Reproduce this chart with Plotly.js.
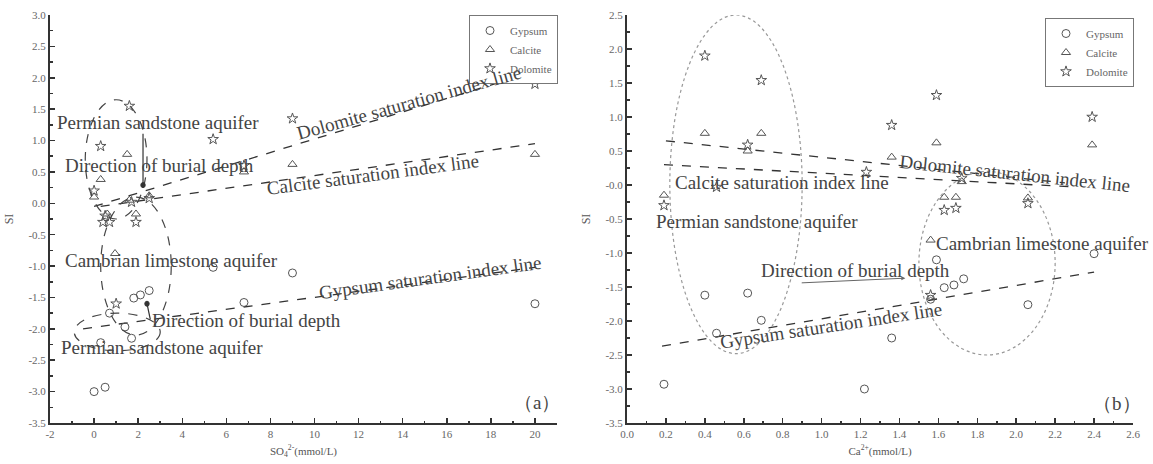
<!DOCTYPE html>
<html>
<head>
<meta charset="utf-8">
<script src="https://cdn.plot.ly/plotly-3.0.1.min.js"></script>
<style>html,body{margin:0;padding:0;background:#fff;}#chart{width:1153px;height:464px;}</style>
</head>
<body>
<div id="chart"></div>
<script>
// ---------- Panel (a): SI vs SO4 ----------
const gypA_x = [0.0, 0.5, 0.3, 1.7, 1.4, 0.7, 1.8, 2.1, 2.5, 5.4, 6.8, 9.0, 20.0];
const gypA_y = [-3.0, -2.93, -2.22, -2.15, -1.97, -1.75, -1.51, -1.46, -1.39, -1.02, -1.58, -1.11, -1.6];
const calA_x = [0.0, 0.3, 1.5, 1.6, 1.9, 0.6, 0.95, 2.5, 6.8, 9.0, 20.0];
const calA_y = [0.1, 0.38, 0.78, 0.05, -0.17, -0.17, -0.8, 0.12, 0.5, 0.62, 0.78];
const dolA_x = [1.6, 0.3, 5.4, 0.0, 6.8, 9.0, 20.0, 1.7, 2.5, 0.5, 0.7, 1.9, 1.0, 0.4];
const dolA_y = [1.55, 0.91, 1.02, 0.2, 0.6, 1.35, 1.9, 0.02, 0.08, -0.2, -0.3, -0.3, -1.6, -0.3];
const dolLineA_x = [0.0, 20.0];
const dolLineA_y = [-0.05, 2.1];
const calLineA_x = [0.3, 20.0];
const calLineA_y = [-0.05, 0.95];
const gypLineA_x = [-0.5, 20.0];
const gypLineA_y = [-2.0, -1.02];

// ---------- Panel (b): SI vs Ca ----------
const gypB_x = [0.19, 0.40, 0.46, 0.62, 0.69, 1.22, 1.36, 1.56, 1.59, 1.63, 1.68, 1.73, 2.06, 2.40];
const gypB_y = [-2.93, -1.62, -2.18, -1.59, -1.99, -3.0, -2.25, -1.68, -1.1, -1.51, -1.47, -1.38, -1.76, -1.01];
const calB_x = [0.19, 0.40, 0.62, 0.69, 1.36, 1.59, 2.39, 1.72, 1.63, 1.69, 2.06, 1.56];
const calB_y = [-0.15, 0.76, 0.5, 0.76, 0.41, 0.62, 0.59, 0.05, -0.18, -0.18, -0.19, -0.81];
const dolB_x = [0.40, 0.69, 0.62, 0.46, 0.19, 1.36, 1.59, 2.39, 1.23, 1.72, 1.63, 1.69, 2.06, 1.56];
const dolB_y = [1.9, 1.54, 0.59, -0.03, -0.3, 0.88, 1.32, 1.0, 0.19, 0.1, -0.37, -0.34, -0.27, -1.62];
const dolLineB_x = [0.2, 2.25];
const dolLineB_y = [0.65, 0.03];
const calLineB_x = [0.19, 2.3];
const calLineB_y = [0.3, -0.03];
const gypLineB_x = [0.18, 2.4];
const gypLineB_y = [-2.37, -1.28];

const xTicksA = [-2, 0, 2, 4, 6, 8, 10, 12, 14, 16, 18, 20];
const yTicksA = [-3.5, -3.0, -2.5, -2.0, -1.5, -1.0, -0.5, 0.0, 0.5, 1.0, 1.5, 2.0, 2.5, 3.0];
const yTickTextA = ["-3.5", "-3.0", "-2.5", "-2.0", "-1.5", "-1.0", "-0.5", "0.0", "0.5", "1.0", "1.5", "2.0", "2.5", "3.0"];
const xTicksB = [0.0, 0.2, 0.4, 0.6, 0.8, 1.0, 1.2, 1.4, 1.6, 1.8, 2.0, 2.2, 2.4, 2.6];
const xTickTextB = ["0.0", "0.2", "0.4", "0.6", "0.8", "1.0", "1.2", "1.4", "1.6", "1.8", "2.0", "2.2", "2.4", "2.6"];
const yTicksB = [-3.5, -3.0, -2.5, -2.0, -1.5, -1.0, -0.5, 0.0, 0.5, 1.0, 1.5, 2.0, 2.5];
const yTickTextB = ["-3.5", "-3.0", "-2.5", "-2.0", "-1.5", "-1.0", "-0.5", "-0.0", "0.5", "1.0", "1.5", "2.0", "2.5"];

const SERIF = "Liberation Serif, Times New Roman, serif";
const MC = "#555";
const mk = (sym, s) => ({symbol: sym, size: s, color: MC, line: {color: MC, width: 1}});

function pts(x, y, name, sym, s, xa, ya, lg) {
  return {x: x, y: y, name: name, type: "scatter", mode: "markers", marker: mk(sym, s),
          xaxis: xa, yaxis: ya, legend: lg, showlegend: true, cliponaxis: false};
}
function ln(x, y, xa, ya) {
  return {x: x, y: y, type: "scatter", mode: "lines", line: {color: "#333", width: 1.3, dash: "dash"},
          xaxis: xa, yaxis: ya, showlegend: false, hoverinfo: "skip"};
}

const data = [
  ln(dolLineA_x, dolLineA_y, "x", "y"),
  ln(calLineA_x, calLineA_y, "x", "y"),
  ln(gypLineA_x, gypLineA_y, "x", "y"),
  ln(dolLineB_x, dolLineB_y, "x2", "y2"),
  ln(calLineB_x, calLineB_y, "x2", "y2"),
  ln(gypLineB_x, gypLineB_y, "x2", "y2"),
  pts(gypA_x, gypA_y, "Gypsum", "circle-open", 8, "x", "y", "legend"),
  pts(calA_x, calA_y, "Calcite", "triangle-up-open", 8, "x", "y", "legend"),
  pts(dolA_x, dolA_y, "Dolomite", "star-open", 8, "x", "y", "legend"),
  pts(gypB_x, gypB_y, "Gypsum", "circle-open", 8, "x2", "y2", "legend2"),
  pts(calB_x, calB_y, "Calcite", "triangle-up-open", 8, "x2", "y2", "legend2"),
  pts(dolB_x, dolB_y, "Dolomite", "star-open", 8, "x2", "y2", "legend2")
];

const W = 1153, H = 464;
const yDom = [(H - 423) / H, (H - 15) / H];

function axisBase(extra) {
  return Object.assign({
    showgrid: false, zeroline: false, showline: true, linecolor: "#333", linewidth: 2,
    ticks: "inside", ticklen: 5, tickwidth: 1.5, tickcolor: "#333",
    tickfont: {family: SERIF, size: 11, color: "#666"},
    tickmode: "array", fixedrange: true
  }, extra);
}

const annFont = {family: SERIF, size: 19, color: "#444"};
function txt(x, y, t, xr, yr, ang, extra) {
  return Object.assign({x: x, y: y, text: t, xref: xr, yref: yr, showarrow: false,
    textangle: ang || 0, font: annFont}, extra || {});
}

const layout = {
  width: W, height: H,
  margin: {l: 0, r: 0, t: 0, b: 0},
  paper_bgcolor: "#fff", plot_bgcolor: "#fff",
  font: {family: SERIF},
  xaxis: axisBase({domain: [50 / W, 557 / W], range: [-2, 21], anchor: "y",
    tickvals: xTicksA, ticktext: xTicksA.map(String),
    minor: {tickvals: [-1, 1, 3, 5, 7, 9, 11, 13, 15, 17, 19, 21], ticks: "inside", ticklen: 2.5, tickcolor: "#333", tickwidth: 1.5},
    title: {text: "SO<sub>4</sub><sup>2-</sup>(mmol/L)", font: {family: SERIF, size: 11, color: "#555"}, standoff: 8}}),
  yaxis: axisBase({domain: yDom, range: [-3.5, 3.0], anchor: "x",
    tickvals: yTicksA, ticktext: yTickTextA,
    minor: {dtick: 0.25, ticks: "inside", ticklen: 3, tickcolor: "#333", tickwidth: 1.5},
    title: {text: "SI", font: {family: SERIF, size: 12, color: "#555"}, standoff: 12}}),
  xaxis2: axisBase({domain: [627 / W, 1133 / W], range: [0, 2.6], anchor: "y2",
    tickvals: xTicksB, ticktext: xTickTextB,
    minor: {dtick: 0.1, ticks: "inside", ticklen: 2.5, tickcolor: "#333", tickwidth: 1.5},
    title: {text: "Ca<sup>2+</sup>(mmol/L)", font: {family: SERIF, size: 11, color: "#555"}, standoff: 8}}),
  yaxis2: axisBase({domain: yDom, range: [-3.5, 2.5], anchor: "x2",
    tickvals: yTicksB, ticktext: yTickTextB,
    minor: {dtick: 0.25, ticks: "inside", ticklen: 3, tickcolor: "#333", tickwidth: 1.5},
    title: {text: "SI", font: {family: SERIF, size: 12, color: "#555"}, standoff: 12}}),
  legend: {x: 469 / W, y: (H - 15) / H, xanchor: "left", yanchor: "top",
    bgcolor: "#fff", bordercolor: "#777", borderwidth: 1,
    font: {family: SERIF, size: 11, color: "#666"}, tracegroupgap: 0, itemwidth: 30},
  legend2: {x: 1045 / W, y: (H - 18) / H, xanchor: "left", yanchor: "top",
    bgcolor: "#fff", bordercolor: "#777", borderwidth: 1,
    font: {family: SERIF, size: 11, color: "#666"}, tracegroupgap: 0, itemwidth: 30},
  shapes: [
    // panel (a) grouping ellipses
    {type: "circle", xref: "x", yref: "y", x0: -0.4, x1: 2.4, y0: -0.25, y1: 1.65,
     line: {color: "#444", width: 1.2, dash: "dash"}},
    {type: "circle", xref: "x", yref: "y", x0: 0.3, x1: 3.5, y0: -2.1, y1: 0.1,
     line: {color: "#444", width: 1.2, dash: "dash"}},
    {type: "circle", xref: "x", yref: "y", x0: -0.9, x1: 3.0, y0: -2.35, y1: -1.75,
     line: {color: "#444", width: 1.2, dash: "dash"}},
    // panel (b) grouping ellipses
    {type: "circle", xref: "x2", yref: "y2", x0: 0.22, x1: 0.9, y0: -2.48, y1: 2.5,
     line: {color: "#999", width: 1.2, dash: "dot"}},
    {type: "circle", xref: "x2", yref: "y2", x0: 1.5, x1: 2.2, y0: -2.5, y1: 0.2,
     line: {color: "#999", width: 1.2, dash: "dot"}},
    // burial-direction arrows in panel (a)
    {type: "line", xref: "x", yref: "y", x0: 2.22, x1: 2.22, y0: 1.11, y1: 0.29,
     line: {color: "#333", width: 1.2}},
    {type: "circle", xref: "x", yref: "y", x0: 2.12, x1: 2.32, y0: 0.25, y1: 0.33,
     fillcolor: "#333", line: {color: "#333", width: 1}},
    {type: "line", xref: "x", yref: "y", x0: 2.55, x1: 2.4, y0: -1.85, y1: -1.6,
     line: {color: "#333", width: 1.2}},
    {type: "circle", xref: "x", yref: "y", x0: 2.3, x1: 2.5, y0: -1.64, y1: -1.56,
     fillcolor: "#333", line: {color: "#333", width: 1}}
  ],
  annotations: [
    // panel (a)
    txt(2.9, 1.29, "Permian sandstone aquifer", "x", "y"),
    txt(2.95, 0.6, "Direction of burial depth", "x", "y"),
    txt(14.3, 1.61, "Dolomite saturation index line", "x", "y", -15.5),
    txt(12.65, 0.46, "Calcite saturation index line", "x", "y", -7.5),
    txt(15.24, -1.18, "Gypsum saturation index line", "x", "y", -7.8),
    txt(3.49, -0.91, "Cambrian limestone aquifer", "x", "y"),
    txt(6.93, -1.86, "Direction of burial depth", "x", "y"),
    txt(3.08, -2.29, "Permian sandstone aquifer", "x", "y"),
    txt(20.1, -3.18, "（a）", "x", "y"),
    // panel (b)
    txt(0.797, 0.044, "Calcite saturation index line", "x2", "y2"),
    txt(1.994, 0.176, "Dolomite saturation index line", "x2", "y2", 6),
    txt(0.668, -0.544, "Permian sandstone aquifer", "x2", "y2"),
    txt(2.133, -0.853, "Cambrian limestone aquifer", "x2", "y2"),
    txt(1.172, -1.25, "Direction of burial depth", "x2", "y2"),
    txt(1.048, -2.07, "Gypsum saturation index line", "x2", "y2", -8.6),
    txt(2.518, -3.206, "（b）", "x2", "y2"),
    {x: 1.43, y: -1.37, ax: 0.89, ay: -1.44, xref: "x2", yref: "y2", axref: "x2", ayref: "y2",
     text: "", showarrow: true, arrowhead: 2, arrowsize: 0.8, arrowwidth: 1, arrowcolor: "#666"}
  ]
};

Plotly.newPlot("chart", data, layout, {displayModeBar: false, staticPlot: true});
</script>
</body>
</html>
